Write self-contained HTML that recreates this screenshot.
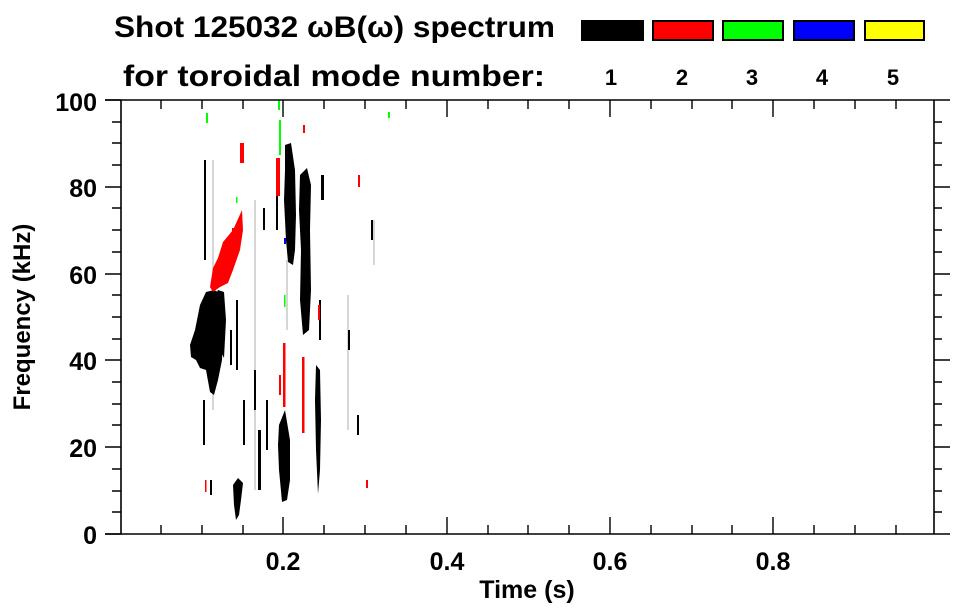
<!DOCTYPE html>
<html><head><meta charset="utf-8"><style>
html,body{margin:0;padding:0;background:#fff;}
svg{display:block;}
text{font-family:"Liberation Sans",Arial,sans-serif;font-weight:bold;fill:#000;}
</style></head><body>
<svg width="963" height="615" viewBox="0 0 963 615" xmlns="http://www.w3.org/2000/svg">
<!-- header -->
<text x="114" y="37" font-size="30" textLength="441" lengthAdjust="spacingAndGlyphs">Shot 125032 ωB(ω) spectrum</text>
<text x="123" y="86" font-size="30" textLength="422" lengthAdjust="spacingAndGlyphs">for toroidal mode number:</text>
<g stroke="#000" stroke-width="2">
<rect x="582" y="21" width="61" height="19" fill="#000"/>
<rect x="653" y="21" width="60" height="19" fill="#ff0000"/>
<rect x="723" y="21" width="60" height="19" fill="#00ff00"/>
<rect x="794" y="21" width="60" height="19" fill="#0000ff"/>
<rect x="865" y="21" width="59" height="19" fill="#ffff00"/>
</g>
<g font-size="22" text-anchor="middle">
<text x="611" y="85">1</text><text x="682" y="85">2</text><text x="752" y="85">3</text><text x="822" y="85">4</text><text x="893" y="85">5</text>
</g>

<!-- data -->
<g>
<g stroke="#bbb" stroke-width="1.2">
<line x1="213" y1="160" x2="213" y2="410"/>
<line x1="255" y1="200" x2="255" y2="490"/>
<line x1="287" y1="260" x2="287" y2="330"/>
<line x1="348" y1="295" x2="348" y2="430"/>
<line x1="374" y1="220" x2="374" y2="265"/>
</g>
<g fill="#000">
<path d="M190,345 L195,330 L200,305 L206,292 L214,290 L220,293 L224,300 L223,330 L222,360 L218,380 L214,395 L210,392 L206,370 L200,368 L196,360 L191,357 Z"/>
<path d="M209,330 L213,300 L218,290 L224,292 L226,320 L224,358 Z"/>
<path d="M285,145 L291,143 L295,170 L296,215 L295,250 L293,265 L288,262 L286,240 L284,200 L285,170 Z"/>
<path d="M300,175 L307,168 L311,185 L310,230 L311,290 L309,330 L303,335 L300,300 L301,250 L299,210 Z"/>
<path d="M316,365 L320,370 L321,420 L320,470 L318,494 L316,450 L315,400 Z"/>
<path d="M279,425 L285,410 L290,440 L290,480 L287,500 L282,502 L279,470 L278,445 Z"/>
<path d="M233,485 L238,478 L243,483 L241,500 L239,515 L236,520 L234,505 Z"/>
<rect x="204" y="160" width="2" height="100"/>
<rect x="203" y="400" width="2" height="45"/>
<rect x="230" y="330" width="2" height="35"/>
<rect x="236" y="300" width="2" height="70"/>
<rect x="254" y="370" width="2" height="40"/>
<rect x="243" y="400" width="2" height="45"/>
<rect x="263" y="208" width="2" height="22"/>
<rect x="276" y="160" width="2" height="40"/>
<rect x="276" y="200" width="2" height="30"/>
<rect x="321" y="175" width="3" height="25"/>
<rect x="319" y="300" width="2" height="40"/>
<rect x="258" y="430" width="3" height="60"/>
<rect x="266" y="400" width="2" height="50"/>
<rect x="371" y="220" width="2" height="20"/>
<rect x="348" y="330" width="2" height="20"/>
<rect x="357" y="415" width="2" height="20"/>
<rect x="210" y="480" width="2" height="15"/>
</g>
<g fill="#ff0000">
<path d="M210,287 L213,268 L218,258 L223,242 L233,230 L242,210 L243,230 L240,250 L233,270 L228,283 L220,287 L213,292 Z"/>
<rect x="240" y="143" width="4" height="20"/>
<rect x="276" y="158" width="4" height="38"/>
<rect x="283" y="343" width="2.5" height="64"/>
<rect x="302" y="357" width="2.5" height="76"/>
<rect x="279" y="375" width="2" height="20"/>
<rect x="205" y="480" width="1.5" height="12"/>
<rect x="358" y="175" width="2" height="12"/>
<rect x="318" y="305" width="2" height="15"/>
<rect x="366" y="480" width="2" height="8"/>
<rect x="303" y="125" width="2" height="8"/>
<rect x="232" y="228" width="2" height="6"/>
</g>
<g fill="#00ff00">
<rect x="278" y="100" width="2" height="10"/>
<rect x="279" y="120" width="2" height="35"/>
<rect x="284" y="295" width="1.5" height="12"/>
<rect x="206" y="113" width="2" height="10"/>
<rect x="388" y="112" width="2" height="6"/>
<rect x="236" y="197" width="1.5" height="6"/>
</g>
<rect x="284" y="238" width="2" height="6" fill="#0000ff"/>
</g>

<!-- axes -->
<g stroke="#000" stroke-width="1.6" fill="none">
<line x1="105" y1="100" x2="950" y2="100"/>
<line x1="105" y1="534" x2="950" y2="534"/>
<line x1="121" y1="100" x2="121" y2="534"/>
<line x1="934" y1="100" x2="934" y2="534"/>
</g>
<g stroke="#000" stroke-width="1.4">
<path d="M105,100H121M105,187H121M105,274H121M105,360H121M105,447H121M105,534H121
M112,122H121M112,143H121M112,165H121M112,208H121M112,230H121M112,252H121M112,295H121M112,317H121M112,339H121M112,382H121M112,404H121M112,425H121M112,469H121M112,491H121M112,512H121
M934,122H942M934,143H942M934,165H942M934,187H950M934,208H942M934,230H942M934,252H942M934,274H950M934,295H942M934,317H942M934,339H942M934,360H950M934,382H942M934,404H942M934,425H942M934,447H950M934,469H942M934,491H942M934,512H942"/>
<path d="M161,534V525M202,534V525M243,534V525M283,534V517M324,534V525M365,534V525M406,534V525M447,534V517M488,534V525M528,534V525M569,534V525M610,534V517M651,534V525M692,534V525M732,534V525M773,534V517M814,534V525M855,534V525M896,534V525
M161,100V109M202,100V109M243,100V109M283,100V117M324,100V109M365,100V109M406,100V109M447,100V117M488,100V109M528,100V109M569,100V109M610,100V117M651,100V109M692,100V109M732,100V109M773,100V117M814,100V109M855,100V109M896,100V109"/>
</g>
<g font-size="25" text-anchor="end">
<text x="97" y="111">100</text>
<text x="97" y="197">80</text>
<text x="97" y="284">60</text>
<text x="97" y="370">40</text>
<text x="97" y="457">20</text>
<text x="97" y="544">0</text>
</g>
<g font-size="25" text-anchor="middle">
<text x="283" y="570">0.2</text>
<text x="447" y="570">0.4</text>
<text x="610" y="570">0.6</text>
<text x="773" y="570">0.8</text>
<text x="527" y="598">Time (s)</text>
</g>
<text font-size="24" text-anchor="middle" transform="translate(30,317) rotate(-90)">Frequency (kHz)</text>
</svg>
</body></html>
